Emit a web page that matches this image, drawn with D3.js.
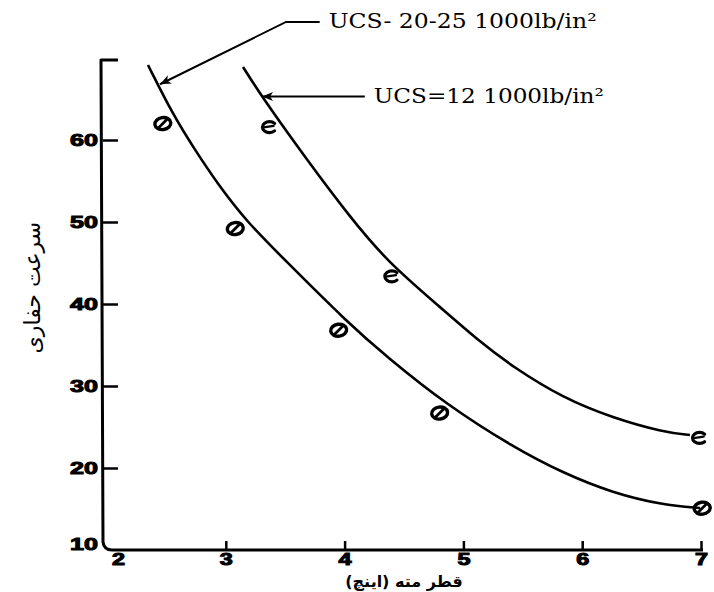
<!DOCTYPE html>
<html>
<head>
<meta charset="utf-8">
<script src="https://cdn.jsdelivr.net/npm/d3@7"></script>
<style>
  html, body { margin: 0; padding: 0; background: #fff; }
  svg { display: block; }
</style>
</head>
<body>
<svg id="chart" width="714" height="592"></svg>
<script>
// Bit diameter (in) vs. drilling rate, two rock strengths
const xTicks = [2, 3, 4, 5, 6, 7];
const yTicks = [10, 20, 30, 40, 50, 60];

// Measured points, UCS 20-25 (kpsi)
const hardX = [2.47, 3.08, 3.95, 4.80, 7.01];
const hardY = [62.0, 49.2, 36.8, 26.7, 15.1];

// Measured points, UCS 12 (kpsi)
const softX = [3.36, 4.39, 6.98];
const softY = [61.6, 43.4, 23.7];

// Fitted trend, UCS 20-25
const hardCurveX = [2.345, 2.556, 2.741, 2.926, 3.178, 3.481, 4.020, 4.357, 4.862, 5.418, 5.838, 6.259, 6.680, 6.992];
const hardCurveY = [69.15, 63.05, 58.78, 54.76, 50.00, 45.61, 37.80, 33.54, 27.68, 22.56, 19.39, 16.95, 15.49, 15.12];

// Fitted trend, UCS 12
const softCurveX = [3.145, 3.305, 3.684, 4.045, 4.357, 4.803, 5.140, 5.418, 5.838, 6.259, 6.680, 6.907];
const softCurveY = [68.90, 65.24, 57.56, 50.61, 45.20, 39.63, 35.37, 32.32, 28.54, 26.10, 24.39, 24.02];

const xTitle = "قطر مته (اینچ)";
const yTitle = "سرعت حفاری";
const labelHard = "UCS- 20-25 1000lb/in²";
const labelSoft = "UCS=12 1000lb/in²";

const svg = d3.select("#chart");

const x = d3.scaleLinear().domain([2, 7]).range([107, 701]);
const y = d3.scaleLinear().domain([10, 70]).range([550, 58]);

const ink = "#000";
const axisX = x(2) - 4;
const axisY = y(10);

// Arrowhead
svg.append("defs").append("marker")
  .attr("id", "arrow")
  .attr("viewBox", "0 0 12 10")
  .attr("refX", 11).attr("refY", 5)
  .attr("markerWidth", 13).attr("markerHeight", 10)
  .attr("markerUnits", "userSpaceOnUse")
  .attr("orient", "auto")
  .append("path")
  .attr("d", "M0,0.5 L11,5 L0,9.5 L3,5 Z")
  .attr("fill", ink);

// Axis frame with rounded corner and top bracket
svg.append("path")
  .attr("d", `M${axisX + 15},${y(70) + 2} H${axisX - 2} L${axisX},${axisY - 8}
              Q${axisX + 1},${axisY} ${axisX + 9},${axisY} H${x(7) + 2}`)
  .attr("fill", "none").attr("stroke", ink).attr("stroke-width", 3)
  .attr("stroke-linejoin", "round");

const tickFont = "'Liberation Sans', Arial, sans-serif";

// Y axis
const yAxis = svg.append("g")
  .attr("transform", `translate(${axisX},0)`)
  .call(d3.axisLeft(y).tickValues(yTicks).tickFormat(d3.format("d"))
    .tickSizeInner(-15).tickSizeOuter(0).tickPadding(5));
yAxis.select(".domain").remove();
yAxis.selectAll(".tick line").attr("stroke", ink).attr("stroke-width", 2.5)
  .filter(d => d === 10).remove();
yAxis.selectAll(".tick text")
  .attr("fill", ink)
  .attr("font-family", tickFont)
  .attr("font-weight", 900)
  .attr("font-size", 17)
  .attr("stroke", ink).attr("stroke-width", 1)
  .attr("textLength", 28)
  .attr("lengthAdjust", "spacingAndGlyphs")
  .attr("dy", d => d === 10 ? "-0.05em" : "0.33em");

// X axis
const xAxis = svg.append("g")
  .attr("transform", `translate(0,${axisY})`)
  .call(d3.axisBottom(x).tickValues(xTicks).tickFormat(d3.format("d"))
    .tickSizeInner(-9).tickSizeOuter(0).tickPadding(4));
xAxis.select(".domain").remove();
xAxis.selectAll(".tick line").attr("stroke", ink).attr("stroke-width", 2.5)
  .filter(d => d === 2).remove();
xAxis.selectAll(".tick text")
  .attr("fill", ink)
  .attr("font-family", tickFont)
  .attr("font-weight", 900)
  .attr("font-size", 16)
  .attr("stroke", ink).attr("stroke-width", 1)
  .attr("textLength", 13)
  .attr("lengthAdjust", "spacingAndGlyphs")
  .attr("dx", d => d === 2 ? 11 : 0);

// Axis titles
svg.append("text")
  .attr("x", x(4.5)).attr("y", 587)
  .attr("text-anchor", "middle")
  .attr("direction", "rtl")
  .attr("font-family", "'DejaVu Sans', sans-serif")
  .attr("font-weight", "bold")
  .attr("font-size", 16)
  .attr("fill", ink)
  .text(xTitle);

svg.append("text")
  .attr("transform", `translate(40,${y(42)}) rotate(-90)`)
  .attr("text-anchor", "middle")
  .attr("direction", "rtl")
  .attr("font-family", "'DejaVu Sans', sans-serif")
  .attr("font-size", 22)
  .attr("fill", ink)
  .text(yTitle);

// Trend curves (smoothed through the read points)
const line = d3.line().x(d => x(d[0])).y(d => y(d[1])).curve(d3.curveBasis);
svg.append("path").datum(d3.zip(hardCurveX, hardCurveY)).attr("d", line)
  .attr("fill", "none").attr("stroke", ink).attr("stroke-width", 2.6);
svg.append("path").datum(d3.zip(softCurveX, softCurveY)).attr("d", line)
  .attr("fill", "none").attr("stroke", ink).attr("stroke-width", 2.6);

// Slashed-oval symbols
const hardPts = svg.append("g").selectAll("g")
  .data(d3.zip(hardX, hardY)).join("g")
  .attr("transform", d => `translate(${x(d[0])},${y(d[1])})`);
hardPts.append("ellipse")
  .attr("rx", 8).attr("ry", 6)
  .attr("transform", "rotate(-8)")
  .attr("fill", "none").attr("stroke", ink).attr("stroke-width", 3.4);
hardPts.append("line")
  .attr("x1", -5).attr("y1", 5).attr("x2", 5).attr("y2", -5)
  .attr("stroke", ink).attr("stroke-width", 2.8);

// Barred-c symbols
const softPts = svg.append("g").selectAll("g")
  .data(d3.zip(softX, softY)).join("g")
  .attr("transform", d => `translate(${x(d[0])},${y(d[1])})`);
softPts.append("path")
  .attr("d", "M6,-3.5 A7 5.5 0 1 0 6,4")
  .attr("fill", "none").attr("stroke", ink).attr("stroke-width", 3.2).attr("stroke-linecap", "round");
softPts.append("path")
  .attr("d", "M-5,0.5 L5,-1")
  .attr("fill", "none").attr("stroke", ink).attr("stroke-width", 2.4).attr("stroke-linecap", "round");

// Callouts
const callouts = [
  { text: labelHard, tip: [2.446, 66.8], path: [[3.507, 74.4], [3.79, 74.4]], width: 268 },
  { text: labelSoft, tip: [3.305, 65.3], path: [[4.17, 65.3]], width: 230 }
];
callouts.forEach(c => {
  const pts = [c.tip, ...c.path].map(p => [x(p[0]), y(p[1])]).reverse();
  svg.append("path")
    .attr("d", d3.line()(pts))
    .attr("fill", "none").attr("stroke", ink).attr("stroke-width", 2)
    .attr("marker-end", "url(#arrow)");
  const end = pts[0];
  svg.append("text")
    .attr("x", end[0] + 9).attr("y", end[1] + 6)
    .attr("font-family", "'DejaVu Serif', 'Liberation Serif', serif")
    .attr("font-size", 20)
    .attr("textLength", c.width)
    .attr("lengthAdjust", "spacingAndGlyphs")
    .attr("fill", ink)
    .text(c.text);
});
</script>
</body>
</html>
